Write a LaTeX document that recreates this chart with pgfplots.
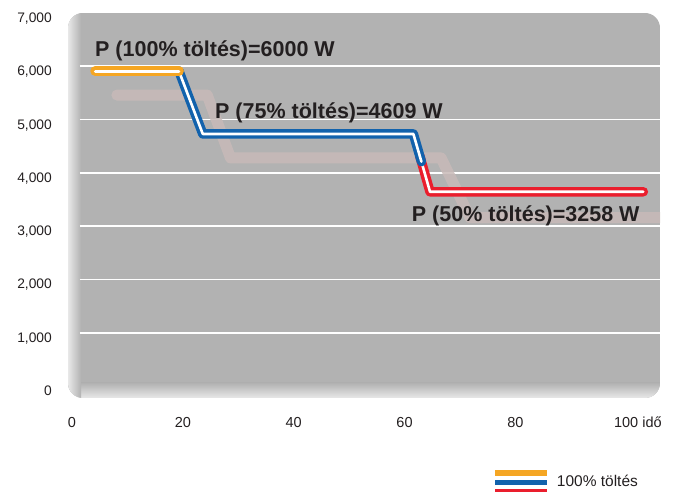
\documentclass[border=0pt]{standalone}
\usepackage{pgfplots}
\pgfplotsset{compat=1.18}
\usepackage{fontspec}
\setmainfont{Liberation Sans}
\definecolor{boxgray}{RGB}{178,178,178}
\definecolor{boxlight}{RGB}{232,232,232}
\definecolor{txt}{RGB}{35,31,32}
\definecolor{orangec}{RGB}{245,166,35}
\definecolor{bluec}{RGB}{18,98,172}
\definecolor{redc}{RGB}{234,30,45}
\definecolor{shadowc}{RGB}{200,186,184}
\begin{document}
\begin{tikzpicture}
\path[use as bounding box] (-68bp,-94bp) rectangle (605bp,398bp);
\begin{scope}
\clip[rounded corners=15bp] (0,0) rectangle (592bp,385bp);
\fill[boxgray] (0,0) rectangle (592bp,385bp);
\shade[top color=boxgray, bottom color=boxlight] (0,0) rectangle (592bp,15bp);
\shade[left color=boxlight, right color=boxgray] (0,0) rectangle (13bp,385bp);
\end{scope}
\begin{axis}[
  at={(0,0)}, anchor=south west,
  scale only axis, width=592bp, height=385bp,
  xmin=-0.72, xmax=106.1, ymin=-225, ymax=7000,
  axis line style={draw=none}, major tick length=0pt, tick style={draw=none},
  xtick={0,20,40,60,80,100},
  xticklabels={0,20,40,60,80,{100\rlap{\ idő}}},
  ytick={0,1000,2000,3000,4000,5000,6000,7000},
  /pgf/number format/assume math mode=true,
  yticklabel style={/pgf/number format/1000 sep={,}, anchor=base east, inner sep=0pt, xshift=-16bp, yshift=-9.5bp, font=\fontsize{13.8bp}{15bp}\selectfont, text=txt},
  xticklabel style={anchor=base, inner sep=0pt, yshift=-29bp, font=\fontsize{14.5bp}{16bp}\selectfont, text=txt},
  clip=true,
]
\pgfplotsinvokeforeach{1000,2000,3000,4000,5000,6000}{
  \draw[white, line width=1.6bp] (axis cs:1.4,#1) -- (axis cs:107,#1);
}
% shadow line
\addplot[shadowc, opacity=0.85, line width=11bp, line cap=round, line join=round, no markers] coordinates {(8.1,5460) (24.4,5460) (28.6,4280) (66.6,4280) (71.8,3160) (107,3160)};
% red
\addplot[redc, line width=9.5bp, line cap=round, line join=round, no markers] coordinates {(62.75,4320) (64.6,3645) (103.1,3645)};
\addplot[white, line width=2.6bp, line cap=round, line join=round, no markers] coordinates {(62.75,4320) (64.6,3645) (103.1,3645)};
% blue
\addplot[bluec, line width=9.5bp, line cap=round, line join=round, no markers] coordinates {(19.3,5910) (23.6,4730) (61.6,4730) (63.05,4210)};
\addplot[white, line width=2.6bp, line cap=round, line join=round, no markers] coordinates {(19.3,5910) (23.6,4730) (61.6,4730) (63.05,4210)};
% orange
\addplot[orangec, line width=10bp, line cap=round, line join=round, no markers] coordinates {(4.2,5910) (19.3,5910)};
\addplot[white, line width=3bp, line cap=round, line join=round, no markers] coordinates {(4.2,5910) (19.3,5910)};
\node[anchor=base west, inner sep=0pt, font=\bfseries\fontsize{21.5bp}{23bp}\selectfont, text=txt] at (axis cs:4.15,6178) {P (100\% töltés)=6000 W};
\node[anchor=base west, inner sep=0pt, font=\bfseries\fontsize{21.5bp}{23bp}\selectfont, text=txt] at (axis cs:25.8,5028) {P (75\% töltés)=4609 W};
\node[anchor=base west, inner sep=0pt, font=\bfseries\fontsize{21.5bp}{23bp}\selectfont, text=txt] at (axis cs:61.3,3083) {P (50\% töltés)=3258 W};
\end{axis}
\draw[orangec, line width=5.5bp] (427bp,-74.8bp) -- (478.7bp,-74.8bp);
\draw[bluec, line width=5.5bp] (427bp,-84.3bp) -- (478.7bp,-84.3bp);
\draw[redc, line width=5.5bp] (427bp,-93.6bp) -- (478.7bp,-93.6bp);
\node[anchor=west, inner sep=0pt, font=\fontsize{15.5bp}{17bp}\selectfont, text=txt] at (488.7bp,-83bp) {100\% töltés};
\end{tikzpicture}
\end{document}
